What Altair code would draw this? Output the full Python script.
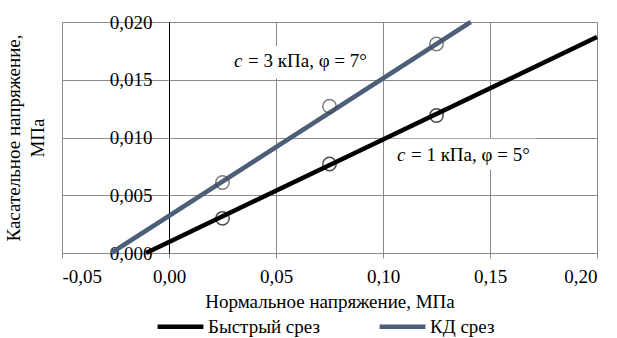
import altair as alt
import pandas as pd

# ---- data ----
series_names = ["Быстрый срез", "КД срез"]
sigma_points = [0.025, 0.075, 0.125]
tau_fast = [0.0030, 0.0077, 0.0119]
tau_kd = [0.0061, 0.0127, 0.0181]
fast_line_x = [-0.0107, 0.20]
fast_line_y = [0.0, 0.0187]
kd_line_x = [-0.027, 0.141]
kd_line_y = [0.0, 0.020]
x_ticks = [-0.05, 0.0, 0.05, 0.10, 0.15, 0.20]
y_ticks = [0.0, 0.005, 0.010, 0.015, 0.020]
ann_text = ["= 3 кПа, φ = 7°", "= 1 кПа, φ = 5°"]
ann_x = [0.0304, 0.1065]
ann_y = [0.0161, 0.0080]
box_x = [0.022, 0.103]
box_x2 = [0.099, 0.172]
box_y = [0.0151, 0.0072]
box_y2 = [0.0179, 0.0099]

FONT = "Liberation Serif"
FS = 19
W, H = 535, 231
KD_COLOR = "#4d5f78"
GRID = "#8a8a8a"

lines_df = pd.DataFrame({
    "x": fast_line_x + kd_line_x,
    "y": fast_line_y + kd_line_y,
    "s": [series_names[0]] * 2 + [series_names[1]] * 2,
})
pts_df = pd.DataFrame({
    "x": sigma_points * 2,
    "y": tau_fast + tau_kd,
    "s": [series_names[0]] * 3 + [series_names[1]] * 3,
})
ann_df = pd.DataFrame({"x": ann_x, "y": ann_y, "t": ann_text})
box_df = pd.DataFrame({"x": box_x, "x2": box_x2, "y": box_y, "y2": box_y2})

xscale = alt.Scale(domain=[-0.05, 0.20], nice=False, zero=False)
yscale = alt.Scale(domain=[0.0, 0.020], nice=False)

x_axis = alt.Axis(
    values=x_ticks,
    labelExpr="(datum.value < 0 ? '-' : '') + replace(format(abs(datum.value), '.2f'), '.', ',')",
    title="Нормальное напряжение, МПа",
    grid=True, gridColor=GRID, gridWidth=1,
    domainColor=GRID, domainWidth=1,
    ticks=True, tickSize=5, tickColor=GRID,
    labelFont=FONT, labelFontSize=FS, labelColor="black", labelPadding=9,
    titleFont=FONT, titleFontSize=FS, titleFontWeight="normal", titleColor="black",
    titlePadding=6,
)
y_axis = alt.Axis(
    values=y_ticks,
    labelExpr="replace(format(datum.value, '.3f'), '.', ',')",
    title=["Касательное напряжение,", "МПа"],
    offset=-107,
    grid=True, gridColor=GRID, gridWidth=1,
    domainColor="black", domainWidth=1,
    ticks=True, tickSize=5, tickColor=GRID,
    labelFont=FONT, labelFontSize=FS, labelColor="black", labelPadding=12,
    labelBaseline="middle",
    titleFont=FONT, titleFontSize=FS, titleFontWeight="normal", titleColor="black",
    titleX=-146, titleBaseline="bottom", titleLineHeight=24,
)

color_scale = alt.Scale(domain=series_names, range=["#000000", KD_COLOR])

boxes = alt.Chart(box_df).mark_rect(fill="white", stroke=None).encode(
    x=alt.X("x:Q", scale=xscale, axis=x_axis),
    x2="x2:Q",
    y=alt.Y("y:Q", scale=yscale, axis=y_axis),
    y2="y2:Q",
)

lines = alt.Chart(lines_df).mark_line(strokeWidth=4.5, strokeCap="butt").encode(
    x=alt.X("x:Q", scale=xscale),
    y=alt.Y("y:Q", scale=yscale),
    color=alt.Color(
        "s:N", scale=color_scale, sort=series_names,
        legend=alt.Legend(
            title=None, orient="none", direction="horizontal",
            legendX=93, legendY=279,
            symbolType="stroke", symbolSize=2100, symbolStrokeWidth=4.5,
            labelFont=FONT, labelFontSize=FS, labelColor="black",
            labelOffset=2, columnPadding=50, symbolOffset=0,
        ),
    ),
    detail="s:N",
)

points = alt.Chart(pts_df).mark_point(shape="circle", filled=False, size=180, strokeWidth=1.5).encode(
    x=alt.X("x:Q", scale=xscale),
    y=alt.Y("y:Q", scale=yscale),
    stroke=alt.Stroke("s:N", scale=alt.Scale(domain=series_names, range=["#000000", "#474747"]), legend=None),
)

ann_c = alt.Chart(ann_df).mark_text(
    text="c", font=FONT, fontSize=FS, fontStyle="italic", align="left", baseline="alphabetic", color="black"
).encode(x=alt.X("x:Q", scale=xscale), y=alt.Y("y:Q", scale=yscale))

ann_rest = alt.Chart(ann_df).mark_text(
    font=FONT, fontSize=FS, align="left", baseline="alphabetic", dx=14, color="black"
).encode(x=alt.X("x:Q", scale=xscale), y=alt.Y("y:Q", scale=yscale), text="t:N")

chart = alt.layer(boxes, lines, points, ann_c, ann_rest).properties(
    width=W, height=H,
    autosize=alt.AutoSizeParams(type="none"),
    padding={"left": 62, "top": 22, "right": 20, "bottom": 85},
).configure_view(stroke=GRID, strokeWidth=1).configure(font=FONT).resolve_scale(color="independent", stroke="independent")

chart.save("out.html", embed_options={"renderer": "svg", "actions": False})
